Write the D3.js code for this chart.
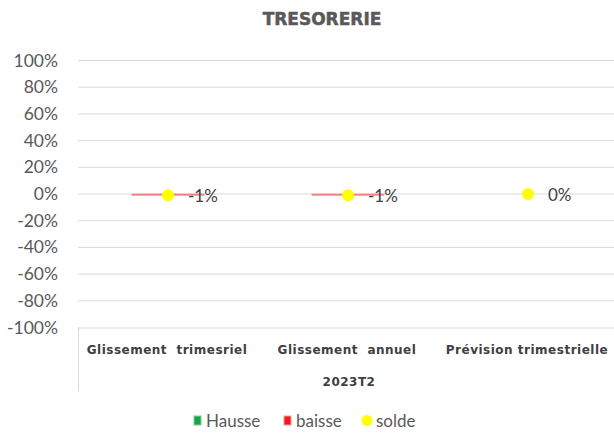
<!DOCTYPE html>
<html>
<head>
<meta charset="utf-8">
<script src="https://cdn.jsdelivr.net/npm/d3@7"></script>
<style>
  body { margin: 0; background: #fff; }
  svg { display: block; }
</style>
</head>
<body>
<svg width="614" height="433"></svg>
<script>
// data
var categories = ["Glissement  trimesriel", "Glissement  annuel", "Prévision trimestrielle"]
var groupLabel = "2023T2"
var hausse = [0, 0, 0]
var baisse = [-1, -1, 0]
var solde = [-1, -1, 0]
var yTicks = [100, 80, 60, 40, 20, 0, -20, -40, -60, -80, -100]
var legendNames = ["Hausse", "baisse", "solde"]

var svg = d3.select("svg")
var plotLeft = 78, plotRight = 618, plotTop = 60.5, plotBottom = 327.5

var x = d3.scaleBand().domain(categories).range([plotLeft, plotRight])
var y = d3.scaleLinear().domain([-100, 100]).range([plotBottom, plotTop])

// title
svg.append("text")
  .attr("x", 322).attr("y", 25)
  .attr("text-anchor", "middle")
  .style("font-family", "DejaVu Sans").style("font-weight", "bold")
  .style("font-size", "17px").style("fill", "#595959")
  .style("stroke", "#595959").style("stroke-width", 0.5)
  .text("TRESORERIE")

// gridlines
svg.append("g").selectAll("line")
  .data(yTicks.filter(d => d != -100))
  .enter().append("line")
  .attr("x1", plotLeft).attr("x2", plotRight)
  .attr("y1", d => y(d)).attr("y2", d => y(d))
  .style("stroke", "#d9d9d9").style("stroke-width", 1)

// y tick labels
svg.append("g").selectAll("text")
  .data(yTicks)
  .enter().append("text")
  .attr("x", 58).attr("y", d => y(d) + 6)
  .attr("text-anchor", "end")
  .style("font-family", "Lato, Open Sans, sans-serif").style("font-size", "17.5px")
  .style("fill", "#595959")
  .text(d => d + "%")

// category axis box
var axis = svg.append("g").style("stroke", "#d9d9d9").style("fill", "none")
axis.append("line").attr("x1", plotLeft).attr("x2", plotRight).attr("y1", plotBottom + 0.5).attr("y2", plotBottom + 0.5)
axis.append("line").attr("x1", plotLeft + 0.5).attr("x2", plotLeft + 0.5).attr("y1", plotBottom).attr("y2", 391)

svg.append("g").selectAll("text")
  .data(categories)
  .enter().append("text")
  .attr("x", d => x(d) + x.bandwidth() / 2 - 1).attr("y", 354)
  .attr("text-anchor", "middle")
  .attr("xml:space", "preserve")
  .style("font-family", "DejaVu Sans").style("font-weight", "bold")
  .style("font-size", "12px").style("letter-spacing", "0.5px").style("fill", "#404040")
  .text(d => d)

svg.append("text")
  .attr("x", (plotLeft + plotRight) / 2 + 1).attr("y", 386)
  .attr("text-anchor", "middle")
  .style("font-family", "DejaVu Sans").style("font-weight", "bold")
  .style("font-size", "12px").style("letter-spacing", "0.5px").style("fill", "#404040")
  .text(groupLabel)

// bars (stacked from zero)
var barW = 72
var bars = svg.append("g")
bars.selectAll(".baisse")
  .data(baisse)
  .enter().append("rect")
  .attr("class", "baisse")
  .attr("x", (d, i) => x(categories[i]) + x.bandwidth() / 2 - barW / 2)
  .attr("width", barW)
  .attr("y", d => Math.min(y(0), y(d)))
  .attr("height", d => Math.abs(y(d) - y(0)))
  .style("fill", "#ee3b3b").style("stroke", "#f4a6a6").style("stroke-width", 1)
bars.selectAll(".hausse")
  .data(hausse)
  .enter().append("rect")
  .attr("class", "hausse")
  .attr("x", (d, i) => x(categories[i]) + x.bandwidth() / 2 - barW / 2)
  .attr("width", barW)
  .attr("y", d => y(d))
  .attr("height", d => y(0) - y(d))
  .style("fill", "#17a34a")

// solde points and labels
svg.append("g").selectAll("circle")
  .data(solde)
  .enter().append("circle")
  .attr("cx", (d, i) => x(categories[i]) + x.bandwidth() / 2)
  .attr("cy", d => y(d))
  .attr("r", 6)
  .style("fill", "#ffff00")

svg.append("g").selectAll("text")
  .data(solde)
  .enter().append("text")
  .attr("x", (d, i) => x(categories[i]) + x.bandwidth() / 2 + 20)
  .attr("y", d => y(d) + 7)
  .style("font-family", "Lato, Open Sans, sans-serif").style("font-size", "17px")
  .style("fill", "#404040")
  .text(d => d + "%")

// legend
var legend = svg.append("g").style("font-family", "Lato, Open Sans, sans-serif")
  .style("font-size", "17px").style("fill", "#595959")
legend.append("rect").attr("x", 194).attr("y", 416).attr("width", 7).attr("height", 9).style("fill", "#17a34a").style("stroke", "#7dcf9a")
legend.append("text").attr("x", 206).attr("y", 427).text(legendNames[0])
legend.append("rect").attr("x", 284).attr("y", 416).attr("width", 7).attr("height", 9).style("fill", "#ee1c1c").style("stroke", "#f49a9a")
legend.append("text").attr("x", 296).attr("y", 427).text(legendNames[1])
legend.append("circle").attr("cx", 367).attr("cy", 420.5).attr("r", 5.5).style("fill", "#ffff00")
legend.append("text").attr("x", 376).attr("y", 427).text(legendNames[2])
</script>
</body>
</html>
